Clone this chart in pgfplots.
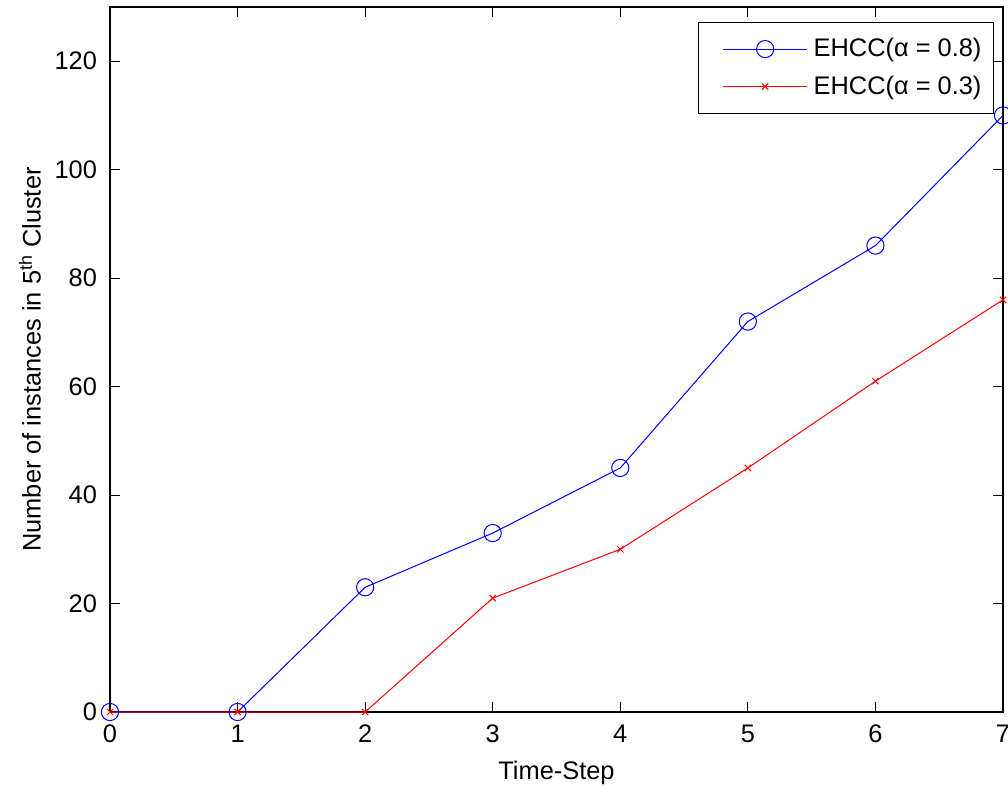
\documentclass[border=0pt]{standalone}
\usepackage{fontspec}
\setmainfont{Liberation Sans}
\usepackage{pgfplots}
\pgfplotsset{compat=1.18}

\begin{document}
\begin{tikzpicture}
\begin{axis}[
    name=ax,
    scale only axis,
    width=446.5pt, height=352.5pt,
    xmin=0, xmax=7, ymin=0, ymax=130,
    xtick={0,...,7},
    ytick={0,20,...,120},
    tick align=inside,
    tick pos=both,
    major tick length=5pt,
    axis line style={line width=0.6pt},
    tick style={line width=0.5pt, black},
    font=\fontsize{12.7pt}{15pt}\selectfont,
    /pgf/number format/assume math mode=true,
    xticklabel style={yshift=-3pt},
    yticklabel style={xshift=-3pt},
    xlabel={Time-Step},
    xlabel style={yshift=-2pt},
    ylabel={Number of instances in 5\textsuperscript{th} Cluster},
    legend style={at={(0.99,0.979)}, anchor=north east, draw=black,
        line width=0.6pt,
        font=\fontsize{12.7pt}{15pt}\selectfont, row sep=4pt,
        inner xsep=4pt, inner ysep=6pt},
    legend cell align=left,
    legend image code/.code={
        \path (-8pt,0pt) (43pt,0pt);
        \draw[#1] (0pt,0pt) -- (42pt,0pt);
        \draw[#1,only marks] plot coordinates {(21pt,0pt)};
    },
]
\addplot[blue, mark=o, mark size=4.3pt, line width=0.5pt] coordinates {
    (0,0) (1,0) (2,23) (3,33) (4,45) (5,72) (6,86) (7,110)
};
\addlegendentry{EHCC(α = 0.8)}
\addplot[red, mark=x, mark size=2.2pt, line width=0.5pt] coordinates {
    (0,0) (1,0) (2,0) (3,21) (4,30) (5,45) (6,61) (7,76)
};
\addlegendentry{EHCC(α = 0.3)}
\end{axis}
\pgfresetboundingbox
\path ([shift={(-55pt,-37pt)}]ax.south west) rectangle ([shift={(2.5pt,3.5pt)}]ax.north east);
\end{tikzpicture}
\end{document}
